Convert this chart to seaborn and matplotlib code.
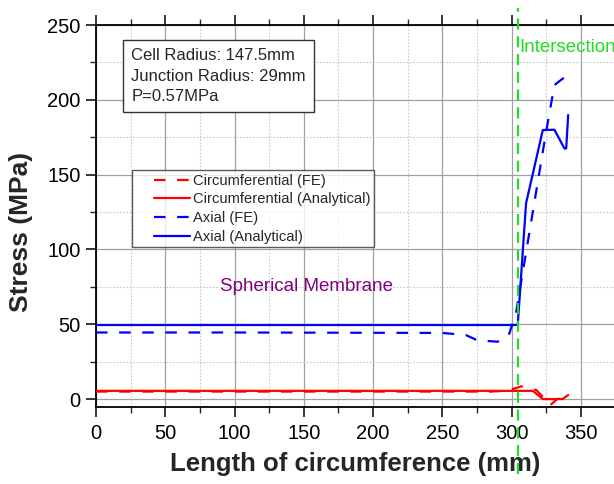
import matplotlib
matplotlib.use("Agg")
import matplotlib.pyplot as plt
import seaborn as sns
import pandas as pd
from matplotlib.ticker import MultipleLocator
from matplotlib.legend_handler import HandlerLine2D

# ---- data ----
circ_fe_x = [0, 50, 100, 150, 200, 250, 285, 295, 302, 307, 318, 328, 333, 338, 341]
circ_fe_y = [5, 5, 5, 5, 5, 5, 5, 5.5, 7, 8.5, 6, -4, 0, 0.5, 3]

circ_an_x = [0, 100, 200, 300, 315.4, 322.6, 336.9, 340.9]
circ_an_y = [5.5, 5.5, 5.5, 5.5, 5.5, 0, 0, 2.7]

axial_fe_x = [0, 100, 200, 250, 267, 275, 290, 298.5, 303.4, 325, 331, 338.2]
axial_fe_y = [44.5, 44.5, 44.3, 44.2, 42.8, 39.4, 38.3, 43.9, 58.4, 178.7, 209.9, 215]

axial_an_x = [0, 100, 200, 300, 304.5, 310.5, 322.6, 331, 338.2, 339.5, 340.9]
axial_an_y = [49.5, 49.5, 49.5, 49.5, 49.5, 130.8, 179.8, 180, 167.5, 167.5, 189.8]

series_labels = ["Circumferential (FE)", "Circumferential (Analytical)",
                 "Axial (FE)", "Axial (Analytical)"]
info_lines = ["Cell Radius: 147.5mm", "Junction Radius: 29mm", "P=0.57MPa"]
intersection_x = 304.5

x_ticks = [0, 50, 100, 150, 200, 250, 300, 350]
y_ticks = [0, 50, 100, 150, 200, 250]

sns.set_style("white")
plt.rcParams['font.family'] = ['Liberation Sans', 'DejaVu Sans']

fig = plt.figure(figsize=(6.14, 4.84), dpi=100)
ax = fig.add_axes([96/614, 77/484, 1 - 96/614, (407-25)/484])

dash = (0, (5.2, 5.2))
sns.lineplot(x=circ_fe_x, y=circ_fe_y, ax=ax, color="#ff0000", lw=1.6,
             linestyle=dash, label=series_labels[0], zorder=3)
sns.lineplot(x=circ_an_x, y=circ_an_y, ax=ax, color="#ff0000", lw=1.6,
             label=series_labels[1], zorder=3)
sns.lineplot(x=axial_fe_x, y=axial_fe_y, ax=ax, color="#0000ff", lw=1.6,
             linestyle=dash, label=series_labels[2], zorder=3)
sns.lineplot(x=axial_an_x, y=axial_an_y, ax=ax, color="#0000ff", lw=1.6,
             label=series_labels[3], zorder=3)

ax.set_xlim(0, 374)
ax.set_ylim(-5.3, 250)
ax.set_xticks(x_ticks)
ax.set_yticks(y_ticks)
ax.xaxis.set_minor_locator(MultipleLocator(25))
ax.yaxis.set_minor_locator(MultipleLocator(25))

ax.grid(True, which="major", color="#a0a0a0", lw=0.9, ls="-")
ax.grid(True, which="minor", color="#c8c8c8", lw=0.8, ls=(0, (1.5, 1.5)))
ax.set_axisbelow(True)

for s in ["left", "bottom", "top"]:
    ax.spines[s].set_color("black")
    ax.spines[s].set_linewidth(1.3)
ax.spines["right"].set_visible(False)

ax.tick_params(axis="both", which="major", direction="out", length=7, width=1.1,
               labelsize=14.5, colors="black", top=True, bottom=True, left=True)
ax.tick_params(axis="both", which="minor", direction="out", length=4, width=1.0,
               top=True, bottom=True, left=True)
ax.tick_params(axis="x", pad=5)
ax.tick_params(axis="y", pad=4)

ax.set_xlabel("Length of circumference (mm)", fontsize=18.5, fontweight="bold", labelpad=7)
ax.set_ylabel("Stress (MPa)", fontsize=19, fontweight="bold")
ax.yaxis.set_label_coords(-0.1216, 0.458)

# intersection line
ax.axvline(intersection_x, ymin=-0.175, ymax=1.045, color="#22dd22", lw=1.6,
           ls=(0, (5, 3)), clip_on=False, zorder=4)
ax.text(intersection_x + 0.8, 235, "Intersection", color="#22dd22", fontsize=13.5,
        ha="left", va="center", clip_on=False)

ax.text(89.4, 75, "Spherical Membrane", color="#800080", fontsize=13.5,
        ha="left", va="center")

ax.text(25.5, 234.5, "\n".join(info_lines), fontsize=12, ha="left", va="top",
        linespacing=1.45,
        bbox=dict(boxstyle="square,pad=0.5", fc="white", ec="#333333", lw=1.0))


class OffsetLineHandler(HandlerLine2D):
    """Draw the legend line only on the right part of the handle box."""
    def create_artists(self, legend, orig_handle, xdescent, ydescent, width,
                       height, fontsize, trans):
        shift = width * 0.33
        return super().create_artists(legend, orig_handle, xdescent - shift,
                                      ydescent, width - shift, height,
                                      fontsize, trans)


handles, labels = ax.get_legend_handles_labels()
leg = ax.legend(handles, labels, loc="upper left",
                bbox_to_anchor=(36/518, (407-170)/382),
                fontsize=10.6, frameon=True, fancybox=False, handlelength=3.67,
                handletextpad=0.2, labelspacing=0.32, borderpad=0.25,
                borderaxespad=0,
                handler_map={h: OffsetLineHandler() for h in handles})
leg.get_frame().set_edgecolor("#333333")
leg.get_frame().set_linewidth(1.0)

fig.savefig("out.png", dpi=100)
